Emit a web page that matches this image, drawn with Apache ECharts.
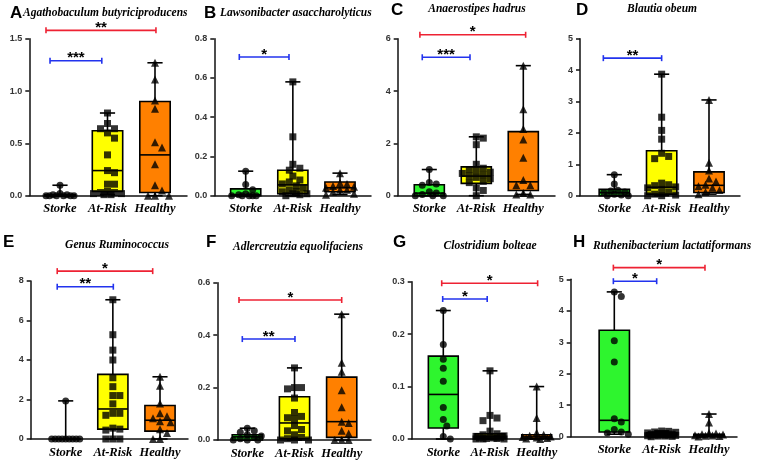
<!DOCTYPE html>
<html>
<head>
<meta charset="utf-8">
<script src="https://cdn.jsdelivr.net/npm/echarts@6/dist/echarts.min.js"></script>
<style>
  html, body { margin: 0; padding: 0; background: #fff; }
  #main { width: 760px; height: 461px; }
</style>
</head>
<body>
<div id="main"></div>
<script>
const groups = ['Storke', 'At-Risk', 'Healthy']
const letters = ['A', 'B', 'C', 'D', 'E', 'F', 'G', 'H']
const titles = [
  'Agathobaculum butyriciproducens',
  'Lawsonibacter asaccharolyticus',
  'Anaerostipes hadrus',
  'Blautia obeum',
  'Genus Ruminococcus',
  'Adlercreutzia equolifaciens',
  'Clostridium bolteae',
  'Ruthenibacterium lactatiformans'
]
const yMax = [1.5, 0.8, 6, 5, 8, 0.6, 0.3, 5]
const yStep = [0.5, 0.2, 2, 1, 2, 0.2, 0.1, 1]

// box stats per panel: [min, q1, median, q3, max] for Storke, At-Risk, Healthy
const boxA = [[0, 0, 0, 0.01, 0.1], [0.01, 0.04, 0.24, 0.62, 0.79], [0, 0.03, 0.39, 0.9, 1.27]]
const boxB = [[0, 0, 0.005, 0.035, 0.125], [0, 0.01, 0.055, 0.13, 0.58], [0.005, 0.02, 0.04, 0.07, 0.115]]
const boxC = [[0, 0, 0.1, 0.42, 1.0], [0, 0.47, 0.75, 1.1, 2.25], [0.05, 0.2, 0.53, 2.45, 4.97]]
const boxD = [[0, 0, 0.1, 0.2, 0.67], [0, 0.05, 0.27, 1.43, 3.87], [0.05, 0.1, 0.33, 0.76, 3.05]]
const boxE = [[0, 0, 0, 0, 1.93], [0, 0.5, 1.52, 3.27, 7.05], [0, 0.4, 0.95, 1.7, 3.15]]
const boxF = [[0, 0, 0.012, 0.02, 0.045], [0, 0.005, 0.065, 0.165, 0.275], [0, 0.01, 0.07, 0.24, 0.48]]
const boxG = [[0, 0.021, 0.085, 0.158, 0.245], [0, 0.001, 0.004, 0.01, 0.13], [0, 0.001, 0.004, 0.008, 0.1]]
const boxH = [[0.08, 0.15, 0.52, 3.38, 4.6], [0, 0.02, 0.06, 0.12, 0.18], [0.01, 0.02, 0.05, 0.08, 0.72]]

// individual samples per panel: Storke, At-Risk, Healthy
const ptsA = [
  [0.1, 0.02, 0.01, 0.01, 0, 0, 0, 0, 0, 0],
  [0.79, 0.69, 0.64, 0.64, 0.6, 0.55, 0.39, 0.24, 0.22, 0.11, 0.11, 0.04, 0.03, 0.03, 0.02, 0.02, 0.01, 0.01],
  [1.27, 1.11, 0.91, 0.83, 0.51, 0.46, 0.3, 0.1, 0.05, 0, 0, 0]
]
const ptsB = [
  [0.125, 0.057, 0.03, 0.01, 0.005, 0, 0, 0, 0, 0],
  [0.58, 0.3, 0.16, 0.14, 0.13, 0.1, 0.08, 0.07, 0.06, 0.05, 0.04, 0.03, 0.02, 0.02, 0.01, 0.01, 0.005, 0],
  [0.115, 0.065, 0.06, 0.05, 0.045, 0.04, 0.03, 0.03, 0.02, 0.01, 0.005]
]
const ptsC = [
  [1.0, 0.5, 0.45, 0.4, 0.15, 0.1, 0.05, 0, 0, 0],
  [2.25, 2.2, 1.95, 1.2, 1.05, 1.0, 0.95, 0.9, 0.85, 0.8, 0.75, 0.7, 0.65, 0.55, 0.5, 0.3, 0.2, 0],
  [4.97, 3.3, 2.55, 2.15, 1.45, 0.6, 0.4, 0.4, 0.1, 0.05, 0.05]
]
const ptsD = [
  [0.67, 0.37, 0.17, 0.15, 0.12, 0.1, 0.05, 0.02, 0, 0],
  [3.87, 2.5, 2.08, 1.8, 1.35, 1.25, 1.18, 0.4, 0.35, 0.32, 0.28, 0.25, 0.2, 0.12, 0.05, 0.02, 0, 0],
  [3.05, 1.05, 0.8, 0.55, 0.45, 0.35, 0.3, 0.25, 0.18, 0.12, 0.05]
]
const ptsE = [
  [1.93, 0, 0, 0, 0, 0, 0, 0, 0, 0],
  [7.05, 5.28, 4.5, 4.0, 3.1, 2.65, 2.2, 2.2, 1.78, 1.3, 1.3, 1.2, 0.55, 0.5, 0.45, 0, 0, 0],
  [3.15, 2.7, 1.8, 1.3, 1.15, 1.05, 0.9, 0.85, 0.5, 0.3, 0, 0]
]
const ptsF = [
  [0.045, 0.035, 0.03, 0.02, 0.015, 0.01, 0.005, 0, 0, 0],
  [0.275, 0.2, 0.2, 0.195, 0.16, 0.105, 0.09, 0.085, 0.08, 0.055, 0.04, 0.035, 0.02, 0.01, 0.005, 0, 0, 0],
  [0.48, 0.295, 0.26, 0.19, 0.125, 0.07, 0.065, 0.035, 0.025, 0, 0, 0]
]
const ptsG = [
  [0.245, 0.18, 0.152, 0.135, 0.11, 0.06, 0.037, 0.025, 0.005, 0],
  [0.13, 0.045, 0.04, 0.035, 0.015, 0.01, 0.008, 0.006, 0.005, 0.004, 0.003, 0.002, 0.002, 0.001, 0.001, 0, 0, 0],
  [0.1, 0.04, 0.012, 0.008, 0.006, 0.005, 0.004, 0.003, 0.002, 0.001, 0]
]
const ptsH = [
  [4.6, 4.45, 3.05, 2.37, 0.57, 0.47, 0.23, 0.15, 0.12, 0.08],
  [0.18, 0.17, 0.15, 0.14, 0.12, 0.1, 0.1, 0.08, 0.07, 0.06, 0.05, 0.05, 0.04, 0.03, 0.02, 0.02, 0.01, 0],
  [0.72, 0.45, 0.12, 0.1, 0.08, 0.07, 0.05, 0.04, 0.03, 0.02, 0.01]
]

// significance brackets: compared group, ends (category units), height, stars
const sigA = [{ vs: 'Healthy', x: [0.705, 3.02], y: 1.58, stars: '**' }, { vs: 'At-Risk', x: [0.79, 1.88], y: 1.29, stars: '***' }]
const sigB = [{ vs: 'At-Risk', x: [0.864, 1.918], y: 0.707, stars: '*' }]
const sigC = [{ vs: 'Healthy', x: [0.8, 3.05], y: 6.15, stars: '*' }, { vs: 'At-Risk', x: [0.85, 1.866], y: 5.29, stars: '***' }]
const sigD = [{ vs: 'At-Risk', x: [0.768, 2.0], y: 4.38, stars: '**' }]
const sigE = [{ vs: 'Healthy', x: [0.82, 2.845], y: 8.5, stars: '*' }, { vs: 'At-Risk', x: [0.82, 2.01], y: 7.71, stars: '**' }]
const sigF = [{ vs: 'Healthy', x: [0.824, 3.0], y: 0.534, stars: '*' }, { vs: 'At-Risk', x: [0.894, 2.01], y: 0.385, stars: '**' }]
const sigG = [{ vs: 'Healthy', x: [0.966, 3.02], y: 0.297, stars: '*' }, { vs: 'At-Risk', x: [0.987, 1.94], y: 0.267, stars: '*' }]
const sigH = [{ vs: 'Healthy', x: [0.98, 2.915], y: 5.37, stars: '*' }, { vs: 'At-Risk', x: [0.98, 1.895], y: 4.94, stars: '*' }]

const boxes = [boxA, boxB, boxC, boxD, boxE, boxF, boxG, boxH]
const points = [ptsA, ptsB, ptsC, ptsD, ptsE, ptsF, ptsG, ptsH]
const sigs = [sigA, sigB, sigC, sigD, sigE, sigF, sigG, sigH]

// panel placement in pixels (y-axis x, top, zero line, right end, first/last group centre)
const layout = [
  { ax: 29.3, top: 38.7, y0: 195.7, right: 187, c1: 60, c3: 155 },
  { ax: 214.3, top: 38.7, y0: 195.7, right: 371, c1: 245.7, c3: 340 },
  { ax: 397.7, top: 38.7, y0: 195.7, right: 555, c1: 429.3, c3: 523.3 },
  { ax: 580, top: 38.7, y0: 195.7, right: 740, c1: 614.3, c3: 709 },
  { ax: 30.7, top: 281, y0: 439, right: 188, c1: 65.7, c3: 160 },
  { ax: 217.3, top: 282.7, y0: 440, right: 371, c1: 247.3, c3: 341.7 },
  { ax: 411.7, top: 281.7, y0: 439, right: 560, c1: 443.3, c3: 536.7 },
  { ax: 570.7, top: 279.3, y0: 436.7, right: 737, c1: 614.3, c3: 709 }
]
const titlePos = [
  { lx: 10, ly: 13, tx: 23, ty: 13, align: 'left' },
  { lx: 204, ly: 13, tx: 220, ty: 13, align: 'left' },
  { lx: 391, ly: 10, tx: 477, ty: 9, align: 'center' },
  { lx: 576, ly: 10, tx: 662, ty: 9, align: 'center' },
  { lx: 3, ly: 242, tx: 117, ty: 245, align: 'center' },
  { lx: 206, ly: 242, tx: 298, ty: 247, align: 'center' },
  { lx: 393, ly: 242, tx: 490, ty: 246, align: 'center' },
  { lx: 573, ly: 242, tx: 593, ty: 246, align: 'left' }
]

const fills = ['#2ef52e', '#ffff00', '#ff8000']
const symbols = ['circle', 'rect', 'triangle']
const symSize = [7, 7, 8]
const RED = '#ee2233'
const BLUE = '#2233ee'
const BOX_HALF = 0.32
const CAP_HALF = 0.16

// spread points of similar value sideways (like GraphPad scatter)
function swarm(vals, center, pxX, pxY) {
  const placed = []
  const out = []
  const sorted = vals.slice().sort((a, b) => b - a)
  const cands = [0]
  for (let k = 1; k * 3.5 <= 15; k++) { cands.push(k * 3.5, -k * 3.5) }
  sorted.forEach(v => {
    const py = v * pxY
    let best = 0, bestD = -1
    for (const off of cands) {
      let d = Infinity
      placed.forEach(p => { d = Math.min(d, Math.hypot(p[0] - off, p[1] - py)) })
      if (d >= 6.5) { best = off; bestD = d; break }
      if (d > bestD) { bestD = d; best = off }
    }
    placed.push([best, py])
    out.push([center + best / pxX, v])
  })
  return out
}

const grid = [], xAxis = [], yAxis = [], series = [], graphic = []

layout.forEach((L, p) => {
  const u = (L.c3 - L.c1) / 2
  const pxY = (L.y0 - L.top) / yMax[p]
  const dec = yStep[p] < 1 ? 1 : 0
  grid.push({ left: L.ax, top: L.top, width: L.right - L.ax, height: L.y0 - L.top })
  xAxis.push({
    gridIndex: p, type: 'value',
    min: 1 - (L.c1 - L.ax) / u, max: 3 + (L.right - L.c3) / u,
    splitLine: { show: false },
    axisLine: { lineStyle: { color: '#111', width: 1.5 } },
    axisTick: { show: false },
    axisLabel: {
      customValues: [1, 2, 3],
      formatter: v => groups[Math.round(v) - 1],
      fontFamily: 'Liberation Serif', fontStyle: 'italic', fontWeight: 'bold',
      fontSize: 12.5, color: '#000', margin: 7
    }
  })
  yAxis.push({
    gridIndex: p, type: 'value', min: 0, max: yMax[p], interval: yStep[p],
    splitLine: { show: false },
    axisLine: { show: true, lineStyle: { color: '#111', width: 1.5 } },
    axisTick: { show: true, length: 4, lineStyle: { color: '#111', width: 1.5 } },
    axisLabel: {
      formatter: v => v.toFixed(dec),
      fontFamily: 'Liberation Sans', fontWeight: 'bold', fontSize: 9, color: '#333', margin: 7
    }
  })

  const bx = boxes[p]
  series.push({
    type: 'custom', xAxisIndex: p, yAxisIndex: p, z: 2,
    data: bx.map((s, g) => [g + 1].concat(s)),
    renderItem: (params, api) => {
      const x = api.value(0)
      const c = k => api.coord([x, api.value(k)])
      const lo = c(1), q1 = c(2), md = c(3), q3 = c(4), hi = c(5)
      const hw = api.size([BOX_HALF, 0])[0]
      const cw = api.size([CAP_HALF, 0])[0]
      const cx = lo[0]
      const st = { stroke: '#000', lineWidth: 1.6 }
      return {
        type: 'group', children: [
          { type: 'line', shape: { x1: cx, y1: hi[1], x2: cx, y2: q3[1] }, style: st },
          { type: 'line', shape: { x1: cx, y1: lo[1], x2: cx, y2: q1[1] }, style: st },
          { type: 'line', shape: { x1: cx - cw, y1: hi[1], x2: cx + cw, y2: hi[1] }, style: st },
          { type: 'line', shape: { x1: cx - cw, y1: lo[1], x2: cx + cw, y2: lo[1] }, style: st },
          { type: 'rect', shape: { x: cx - hw, y: q3[1], width: 2 * hw, height: q1[1] - q3[1] },
            style: { fill: fills[params.dataIndex], stroke: '#000', lineWidth: 1.6 } },
          { type: 'line', shape: { x1: cx - hw, y1: md[1], x2: cx + hw, y2: md[1] }, style: st }
        ]
      }
    }
  })

  points[p].forEach((vals, g) => {
    series.push({
      type: 'scatter', xAxisIndex: p, yAxisIndex: p, z: 3, clip: false,
      symbol: symbols[g], symbolSize: symSize[g],
      itemStyle: { color: '#000' },
      data: swarm(vals, g + 1, u, pxY)
    })
  })

  const sg = sigs[p]
  series.push({
    type: 'custom', xAxisIndex: p, yAxisIndex: p, z: 4,
    data: sg.map(b => [b.x[0], b.x[1], b.y]),
    renderItem: (params, api) => {
      const b = sg[params.dataIndex]
      const a = api.coord([api.value(0), api.value(2)])
      const e = api.coord([api.value(1), api.value(2)])
      const col = b.vs === 'Healthy' ? RED : BLUE
      const st = { stroke: col, lineWidth: 1.6 }
      return {
        type: 'group', children: [
          { type: 'line', shape: { x1: a[0], y1: a[1], x2: e[0], y2: e[1] }, style: st },
          { type: 'line', shape: { x1: a[0], y1: a[1] - 3, x2: a[0], y2: a[1] + 3 }, style: st },
          { type: 'line', shape: { x1: e[0], y1: e[1] - 3, x2: e[0], y2: e[1] + 3 }, style: st },
          { type: 'text', style: {
            x: (a[0] + e[0]) / 2, y: a[1] - 2.5, text: b.stars, fill: '#000',
            font: 'bold 15px "Liberation Sans"', align: 'center', verticalAlign: 'middle' } }
        ]
      }
    }
  })

  const T = titlePos[p]
  graphic.push({
    type: 'text', style: {
      x: T.lx, y: T.ly, text: letters[p], fill: '#000',
      font: 'bold 17px "Liberation Sans"', align: 'left', verticalAlign: 'middle' }
  })
  graphic.push({
    type: 'text', style: {
      x: T.tx, y: T.ty, text: titles[p], fill: '#000',
      font: 'italic bold 11.5px "Liberation Serif"', align: T.align, verticalAlign: 'middle' }
  })
})

const chart = echarts.init(document.getElementById('main'))
chart.setOption({
  animation: false,
  backgroundColor: '#fff',
  grid, xAxis, yAxis, series, graphic
})
</script>
</body>
</html>
